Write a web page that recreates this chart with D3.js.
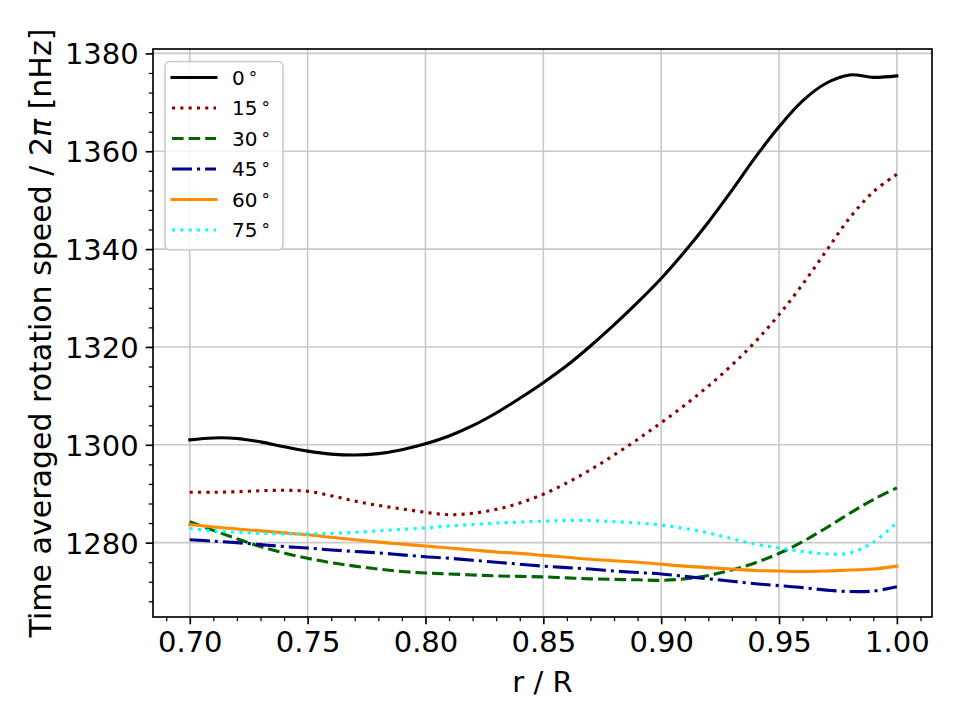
<!DOCTYPE html>
<html>
<head>
<meta charset="utf-8">
<script src="https://cdn.jsdelivr.net/npm/d3@7"></script>
<style>
  body { margin: 0; background: #fff; }
  svg { display: block; font-family: "DejaVu Sans", sans-serif; }
</style>
</head>
<body>
<div id="chart"></div>
<script>
// r / R sample positions
const radius = [0.70, 0.71, 0.72, 0.73, 0.74, 0.75, 0.76, 0.77, 0.78, 0.79,
                0.80, 0.81, 0.82, 0.83, 0.84, 0.85, 0.86, 0.87, 0.88, 0.89,
                0.90, 0.91, 0.92, 0.93, 0.94, 0.95, 0.96, 0.97, 0.98, 0.99, 1.00];

// rotation speed / 2pi [nHz] per latitude
const lat0 = [1301.0, 1301.4, 1301.3, 1300.6, 1299.6, 1298.7, 1298.1, 1297.9, 1298.2, 1299.0,
              1300.2, 1301.8, 1303.9, 1306.5, 1309.5, 1312.7, 1316.2, 1320.2, 1324.5, 1329.1,
              1334.0, 1339.5, 1345.5, 1352.0, 1358.8, 1365.0, 1370.3, 1373.9, 1375.6, 1375.1, 1375.4];
const lat15 = [1290.3, 1290.3, 1290.4, 1290.6, 1290.7, 1290.5, 1289.6, 1288.5, 1287.6, 1286.9,
               1286.2, 1285.7, 1286.0, 1286.8, 1288.1, 1289.9, 1292.2, 1294.9, 1297.9, 1301.1,
               1304.5, 1308.1, 1312.0, 1316.3, 1321.1, 1326.6, 1332.8, 1339.6, 1346.4, 1351.7, 1355.3];
const lat30 = [1284.3, 1282.5, 1280.8, 1279.2, 1277.9, 1276.8, 1275.9, 1275.2, 1274.6, 1274.1,
               1273.8, 1273.6, 1273.4, 1273.2, 1273.1, 1273.0, 1272.8, 1272.6, 1272.5, 1272.4,
               1272.3, 1272.6, 1273.3, 1274.4, 1275.9, 1277.8, 1280.2, 1283.0, 1286.0, 1288.8, 1291.2];
const lat45 = [1280.6, 1280.3, 1280.0, 1279.6, 1279.2, 1278.9, 1278.5, 1278.2, 1277.9, 1277.5,
               1277.1, 1276.8, 1276.4, 1276.0, 1275.6, 1275.2, 1274.9, 1274.6, 1274.2, 1273.9,
               1273.6, 1273.1, 1272.6, 1272.1, 1271.6, 1271.2, 1270.8, 1270.3, 1270.0, 1270.1, 1271.0];
const lat60 = [1283.7, 1283.2, 1282.8, 1282.4, 1282.0, 1281.6, 1281.1, 1280.6, 1280.1, 1279.7,
               1279.3, 1278.9, 1278.5, 1278.1, 1277.8, 1277.4, 1277.0, 1276.6, 1276.3, 1276.0,
               1275.6, 1275.2, 1274.9, 1274.6, 1274.3, 1274.2, 1274.1, 1274.2, 1274.4, 1274.6, 1275.2];
const lat75 = [1282.9, 1282.4, 1282.1, 1281.9, 1281.8, 1281.8, 1281.9, 1282.1, 1282.4, 1282.7,
               1283.0, 1283.4, 1283.7, 1284.0, 1284.2, 1284.4, 1284.5, 1284.5, 1284.3, 1284.0,
               1283.6, 1282.9, 1282.0, 1280.8, 1279.7, 1278.9, 1278.2, 1277.7, 1277.9, 1280.1, 1284.1];

const latLabels = ["0", "15", "30", "45", "60", "75"];
const xTicks = [0.70, 0.75, 0.80, 0.85, 0.90, 0.95, 1.00];
const yTicks = [1280, 1300, 1320, 1340, 1360, 1380];

document.addEventListener("DOMContentLoaded", function() {
    const width = 960, height = 720;
    const margin = {top: 49, right: 28, bottom: 103, left: 153};
    const w = width - margin.left - margin.right;
    const h = height - margin.top - margin.bottom;
    const fontSize = 29;

    // matplotlib style line looks
    const styles = [
        {color: "#000000", dash: null},
        {color: "#8b0000", dash: "3.1,5.2"},
        {color: "#006400", dash: "11.6,5"},
        {color: "#00008b", dash: "20,5,3.1,5"},
        {color: "#ff8c00", dash: null},
        {color: "#00ffff", dash: "3.1,5.2"}
    ];
    const series = [lat0, lat15, lat30, lat45, lat60, lat75].map((vals, i) => ({
        label: latLabels[i],
        style: styles[i],
        points: radius.map((r, j) => ({r: r, v: vals[j]}))
    }));

    const svg = d3.select("#chart").append("svg")
        .attr("width", width)
        .attr("height", height);

    const g = svg.append("g").attr("transform", `translate(${margin.left},${margin.top})`);

    const x = d3.scaleLinear().domain([0.6844, 1.0149]).range([0, w]);
    const y = d3.scaleLinear().domain([1264.8, 1380.9]).range([h, 0]);

    // grid
    g.append("g").selectAll("line").data(xTicks).join("line")
        .attr("x1", d => x(d)).attr("x2", d => x(d))
        .attr("y1", 0).attr("y2", h)
        .attr("stroke", "#c8c8c8").attr("stroke-width", 1.6);
    g.append("g").selectAll("line").data(yTicks).join("line")
        .attr("y1", d => y(d)).attr("y2", d => y(d))
        .attr("x1", 0).attr("x2", w)
        .attr("stroke", "#c8c8c8").attr("stroke-width", 1.6);

    // curves
    const line = d3.line()
        .x(d => x(d.r))
        .y(d => y(d.v))
        .curve(d3.curveCatmullRom.alpha(0.5));

    series.forEach(s => {
        g.append("path")
            .datum(s.points)
            .attr("fill", "none")
            .attr("stroke", s.style.color)
            .attr("stroke-width", 3.1)
            .attr("stroke-linecap", s.style.dash ? "butt" : "square")
            .attr("stroke-linejoin", "round")
            .attr("stroke-dasharray", s.style.dash)
            .attr("d", line);
    });

    // axes
    const xMinor = d3.range(69, 102).map(d => d / 100).filter(d => Math.round(d * 100) % 5 !== 0);
    const yMinor = d3.range(1268, 1381, 4).filter(d => d % 20 !== 0);

    const xAxis = g.append("g").attr("transform", `translate(0,${h})`);
    xAxis.call(d3.axisBottom(x).tickValues(xTicks).tickFormat(d3.format(".2f"))
        .tickSize(7.3).tickPadding(7));
    xAxis.append("g").call(d3.axisBottom(x).tickValues(xMinor).tickFormat("").tickSize(4.2))
        .call(a => a.selectAll("line").attr("stroke-width", 1.25))
        .call(a => a.select(".domain").remove());

    const yAxis = g.append("g");
    yAxis.call(d3.axisLeft(y).tickValues(yTicks).tickFormat(d3.format("d"))
        .tickSize(7.3).tickPadding(7));
    yAxis.append("g").call(d3.axisLeft(y).tickValues(yMinor).tickFormat("").tickSize(4.2))
        .call(a => a.selectAll("line").attr("stroke-width", 1.25))
        .call(a => a.select(".domain").remove());

    [xAxis, yAxis].forEach(a => {
        a.select(".domain").remove();
        a.selectAll(".tick line").filter(function() { return !this.getAttribute("stroke-width"); })
            .attr("stroke-width", 1.67);
        a.selectAll("text")
            .attr("font-family", "DejaVu Sans")
            .attr("font-size", fontSize)
            .attr("fill", "#000");
    });
    yAxis.selectAll("text").attr("dy", "0.36em");
    xAxis.selectAll("text").attr("dy", "0.72em");

    // frame
    g.append("rect")
        .attr("width", w).attr("height", h)
        .attr("fill", "none")
        .attr("stroke", "#000").attr("stroke-width", 1.67);

    // axis labels
    svg.append("text")
        .attr("x", margin.left + w / 2)
        .attr("y", 692)
        .attr("text-anchor", "middle")
        .attr("font-size", fontSize)
        .text("r / R");

    const yl = svg.append("text")
        .attr("transform", `translate(51,${margin.top + h / 2}) rotate(-90)`)
        .attr("text-anchor", "middle")
        .attr("font-size", 30);
    yl.append("tspan").text("Time averaged rotation speed / 2");
    yl.append("tspan").attr("font-style", "italic").text("\u03c0");
    yl.append("tspan").text(" [nHz]");

    // legend
    const legend = g.append("g").attr("transform", "translate(12,12.5)");
    legend.append("rect")
        .attr("width", 118).attr("height", 188.5)
        .attr("rx", 5).attr("ry", 5)
        .attr("fill", "#fff").attr("fill-opacity", 0.8)
        .attr("stroke", "#cccccc").attr("stroke-width", 1.67);

    series.forEach((s, i) => {
        const row = legend.append("g").attr("transform", `translate(0,${16 + i * 30.5})`);
        row.append("line")
            .attr("x1", 7).attr("x2", 51)
            .attr("stroke", s.style.color)
            .attr("stroke-width", 3.1)
            .attr("stroke-linecap", s.style.dash ? "butt" : "square")
            .attr("stroke-dasharray", s.style.dash);
        const t = row.append("text")
            .attr("x", 67).attr("y", 7)
            .attr("font-size", 20)
            .text(s.label);
        t.append("tspan").attr("dx", 4).attr("font-size", 17).attr("dy", -1).text("\u00b0");
    });
});
</script>
</body>
</html>
